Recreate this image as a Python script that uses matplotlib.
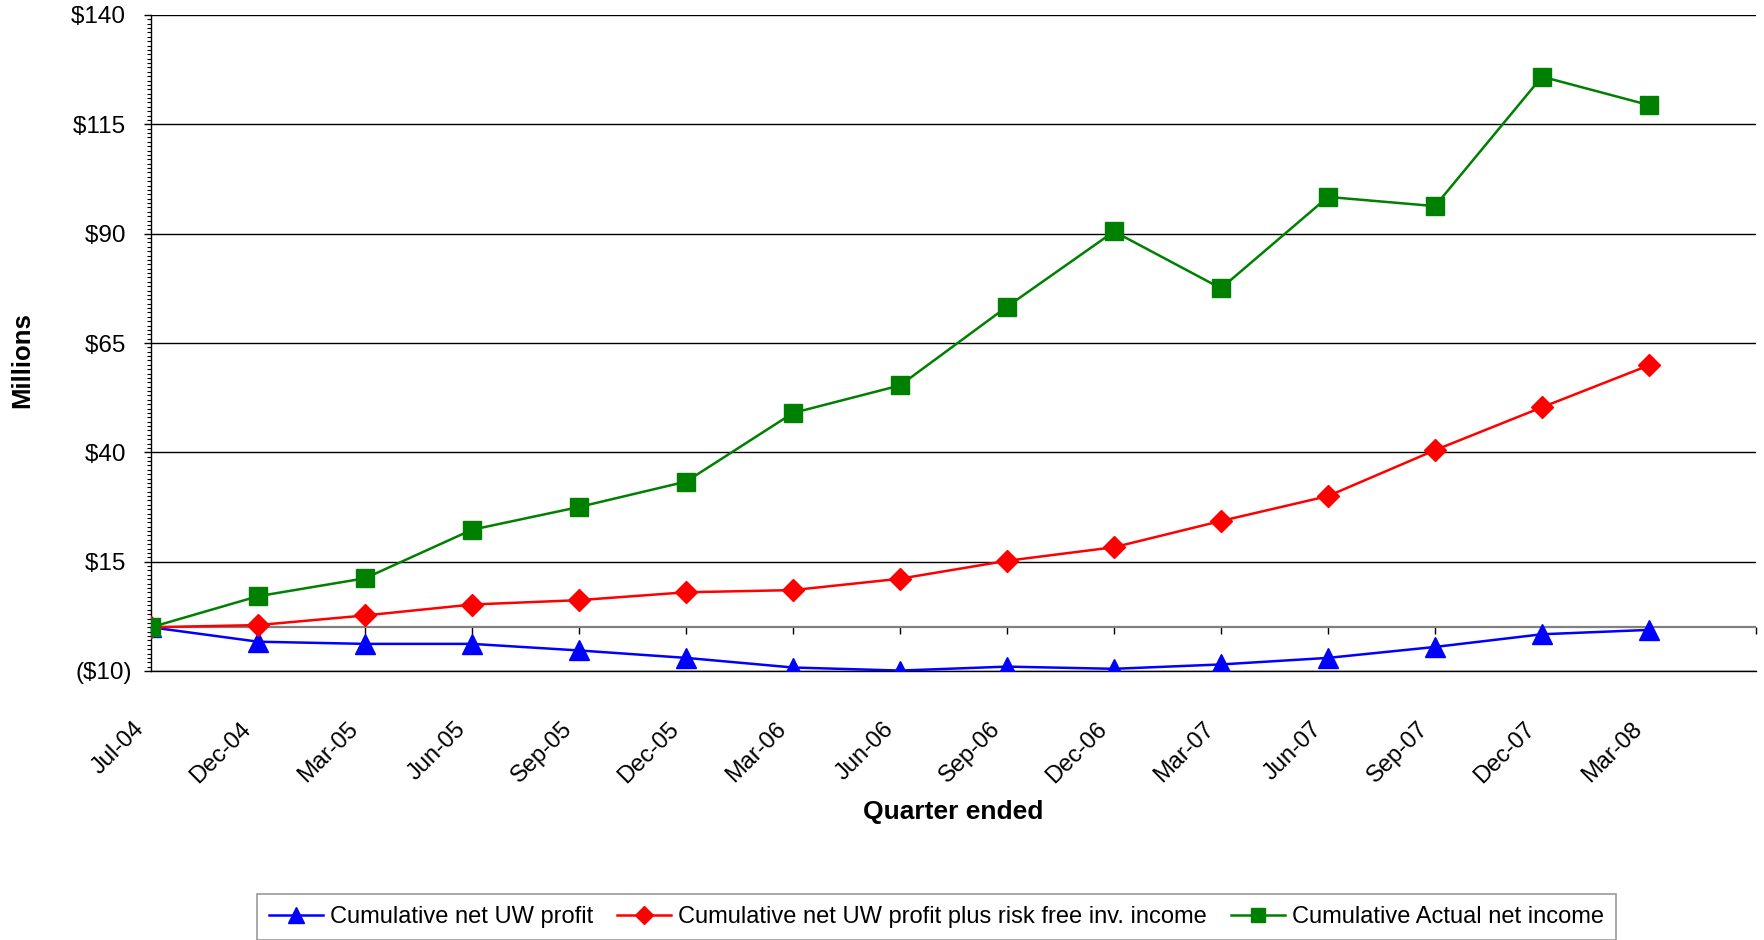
import matplotlib
matplotlib.use("Agg")
import matplotlib.pyplot as plt
from matplotlib.ticker import MultipleLocator
from matplotlib.transforms import ScaledTranslation

# ---- data ----
quarters = ["Jul-04", "Dec-04", "Mar-05", "Jun-05", "Sep-05", "Dec-05", "Mar-06",
            "Jun-06", "Sep-06", "Dec-06", "Mar-07", "Jun-07", "Sep-07", "Dec-07", "Mar-08"]
uw_profit = [0.0, -3.3, -3.8, -3.8, -5.3, -7.0, -9.2, -9.9, -9.0, -9.5, -8.5, -7.0, -4.5, -1.6, -0.6]
uw_plus_rf = [0.0, 0.5, 2.7, 5.2, 6.2, 8.0, 8.5, 11.1, 15.2, 18.3, 24.3, 30.0, 40.5, 50.3, 59.9]
actual_net = [0.0, 7.1, 11.2, 22.3, 27.5, 33.3, 49.0, 55.3, 73.3, 90.5, 77.5, 98.4, 96.3, 125.9, 119.4]

series_names = ["Cumulative net UW profit",
                "Cumulative net UW profit plus risk free inv. income",
                "Cumulative Actual net income"]
y_ticks = [-10, 15, 40, 65, 90, 115, 140]
y_tick_labels = ["($10)", "$15", "$40", "$65", "$90", "$115", "$140"]
x_label = "Quarter ended"
y_label = "Millions"

plt.rcParams["font.family"] = ["Liberation Sans", "DejaVu Sans"]

W, H = 1765, 940
fig = plt.figure(figsize=(W / 100, H / 100), dpi=100)
ax = fig.add_axes([151 / W, 1 - 671 / H, (1756 - 151) / W, (671 - 15) / H])

x = list(range(len(quarters)))
ymin, ymax = y_ticks[0], y_ticks[-1]
ax.set_xlim(0, len(quarters))
ax.set_ylim(ymin, ymax)

# zero line (category axis crossing)
ax.axhline(0, color="#808080", lw=1.6, zorder=1.5)

l1, = ax.plot(x, uw_profit, color="#0000FF", lw=1.8, marker="^", ms=15,
              markeredgecolor="#0000FF", zorder=3, label=series_names[0])
l2, = ax.plot(x, uw_plus_rf, color="#FF0000", lw=1.8, marker="D", ms=11,
              markeredgecolor="#FF0000", zorder=3, label=series_names[1])
l3, = ax.plot(x, actual_net, color="#008000", lw=1.8, marker="s", ms=13,
              markeredgecolor="#008000", zorder=3, label=series_names[2])

# spines
ax.spines["top"].set_visible(False)
ax.spines["right"].set_visible(False)
ax.spines["left"].set_linewidth(1.0)
ax.spines["bottom"].set_linewidth(1.0)

# y axis
ax.set_yticks(y_ticks)
ax.set_yticklabels([t if t.startswith("(") else t + " " for t in y_tick_labels])
ax.yaxis.set_minor_locator(MultipleLocator(1))
ax.tick_params(axis="y", which="major", direction="out", length=5, width=1.0,
               pad=8.5, labelsize=17.5)
ax.tick_params(axis="y", which="minor", direction="out", length=3, width=0.8)
ax.yaxis.grid(True, which="major", color="black", lw=1.0)
ax.set_axisbelow(True)

# x axis labels (low position)
ax.set_xticks(x)
ax.set_xticklabels(quarters, rotation=45, ha="right", va="center",
                   rotation_mode="anchor")
ax.tick_params(axis="x", length=0, pad=30, labelsize=17)
shift = ScaledTranslation(-0.10, -0.13, fig.dpi_scale_trans)
for lbl in ax.get_xticklabels():
    lbl.set_transform(lbl.get_transform() + shift)

# tick marks on the zero line
sec = ax.secondary_xaxis((0 - ymin) / (ymax - ymin))
sec.set_xticks(list(range(len(quarters) + 1)))
sec.tick_params(axis="x", direction="out", length=5, width=1.0, color="black",
                labelbottom=False)
sec.spines["bottom"].set_visible(False)

fig.text(22 / W, 1 - 360 / H, y_label, rotation=90, fontsize=18.5,
         fontweight="bold", ha="center", va="center")
fig.text(953 / W, 1 - 812 / H, x_label, fontsize=19, fontweight="bold",
         ha="center", va="center")

leg = fig.legend(handles=[l1, l2, l3], loc="upper left",
                 bbox_to_anchor=(257 / W, 1 - 894 / H), bbox_transform=fig.transFigure,
                 ncol=3, fontsize=17, frameon=True, fancybox=False, borderaxespad=0,
                 handlelength=2.3, handletextpad=0.3, columnspacing=1.0,
                 borderpad=0.5, markerscale=0.8)
leg.get_frame().set_edgecolor("#808080")
leg.get_frame().set_linewidth(1.2)

fig.savefig("out.png", dpi=100)
